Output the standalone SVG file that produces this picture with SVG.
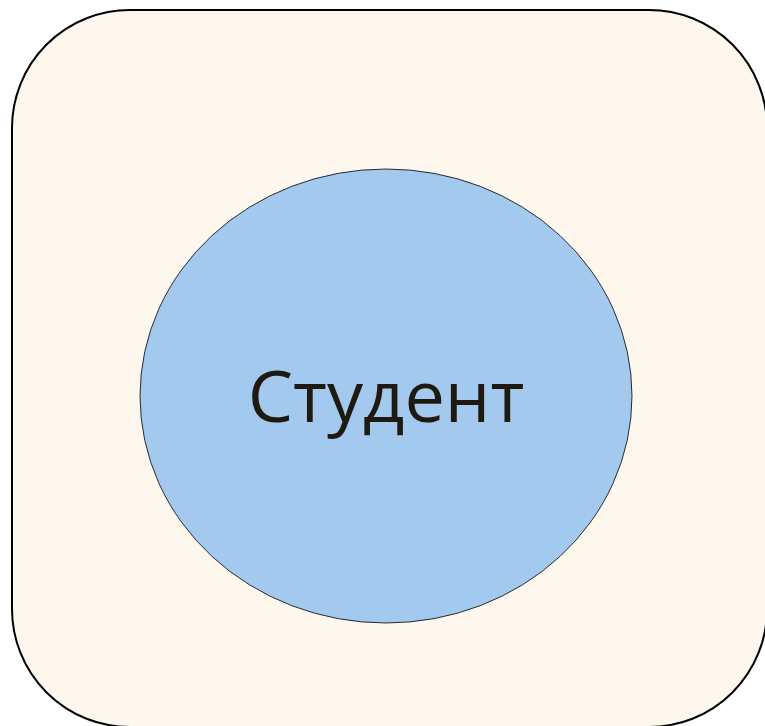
<svg xmlns="http://www.w3.org/2000/svg" width="765" height="726" viewBox="0 0 765 726">
<style>
.frame{fill:#FEF7EE;stroke:#000;stroke-width:2}
.node{fill:#A4C9EE;stroke:#000;stroke-width:0.8}
.label{font-family:"Open Sans","Noto Sans",sans-serif;font-size:72px;fill:#1E1A12;text-anchor:middle}
</style>
<rect width="765" height="726" fill="#fff"/>
<g id="frame">
<rect class="frame" x="12" y="10" width="755" height="717" rx="118" ry="118"/>
</g>
<g id="student">
<ellipse class="node" cx="386" cy="396" rx="246" ry="227"/>
<text class="label" x="386" y="422">Студент</text>
</g>
<g id="connectors"></g>
</svg>
